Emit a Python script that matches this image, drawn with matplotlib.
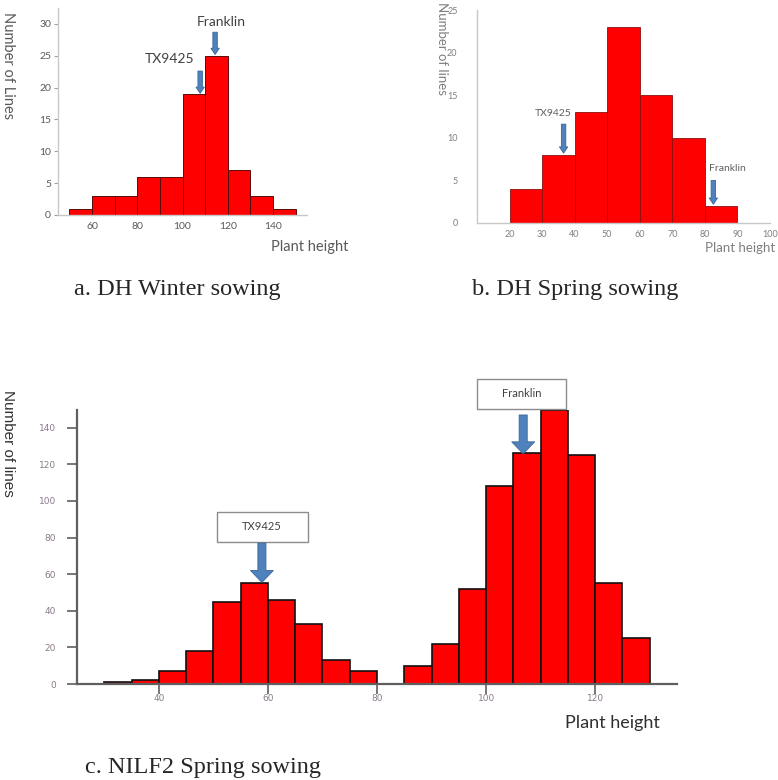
import matplotlib
matplotlib.use('Agg')
from matplotlib import pyplot as plt
from matplotlib.patches import Rectangle

# a. DH winter sowing
a_edges = [50, 60, 70, 80, 90, 100, 110, 120, 130, 140]
a_counts = [1, 3, 3, 6, 6, 19, 25, 7, 3, 1]
a_yticks = [0, 5, 10, 15, 20, 25, 30]
a_xticks = [60, 80, 100, 120, 140]

# b. DH spring sowing
b_edges = [20, 30, 40, 50, 60, 70, 80]
b_counts = [4, 8, 13, 23, 15, 10, 2]
b_yticks = [0, 5, 10, 15, 20, 25]
b_xticks = [20, 30, 40, 50, 60, 70, 80, 90, 100]

# c. NILF2 spring sowing
c_edges = [30, 35, 40, 45, 50, 55, 60, 65, 70, 75,
           85, 90, 95, 100, 105, 110, 115, 120, 125]
c_counts = [1, 2, 7, 18, 45, 55, 46, 33, 13, 7,
            10, 22, 52, 108, 126, 150, 125, 55, 25]
c_yticks = [0, 20, 40, 60, 80, 100, 120, 140]
c_xticks = [40, 60, 80, 100, 120]

RED = '#ff0000'
ARROW_FC = '#4f81bd'
ARROW_EC = '#3a6597'
SANS = ['Lato', 'DejaVu Sans']


def block_arrow(ax, x, y_from, y_to, hw, tw, hl):
    ax.annotate('', xy=(x, y_to), xytext=(x, y_from),
                arrowprops=dict(arrowstyle=f'simple,head_length={hl},head_width={hw},tail_width={tw}',
                                fc=ARROW_FC, ec=ARROW_EC, lw=0.6, mutation_scale=10,
                                shrinkA=0, shrinkB=0),
                annotation_clip=False)


def light_axes(ax, color):
    for s in ['top', 'right']:
        ax.spines[s].set_visible(False)
    for s in ['left', 'bottom']:
        ax.spines[s].set_color('#c8c8c8')
        ax.spines[s].set_linewidth(1.0)
    ax.tick_params(colors=color, labelcolor=color)


fig = plt.figure(figsize=(7.78, 7.80), dpi=100)

# ---- panel a ----
ax = fig.add_axes([58 / 778, 1 - 215 / 780, 249 / 778, 207 / 780])
ax.bar(a_edges, a_counts, width=10, align='edge', color=RED, edgecolor='#5a0a0a', linewidth=0.7)
ax.set_xlim(45, 155)
ax.set_ylim(0, 32.5)
ax.set_yticks(a_yticks)
ax.set_xticks(a_xticks)
light_axes(ax, '#595959')
ax.tick_params(axis='y', length=3, width=0.8, color='#a0a0a0', labelsize=7.5, pad=2)
ax.tick_params(axis='x', length=0, labelsize=7.5, pad=5)
for lab in ax.get_xticklabels() + ax.get_yticklabels():
    lab.set_family(SANS)
ax.text(-0.2, 0.72, 'Number of Lines', transform=ax.transAxes, rotation=-90,
        ha='center', va='center', fontsize=10.5, color='#595959', family=SANS)
ax.text(1.01, -0.155, 'Plant height', transform=ax.transAxes,
        ha='center', va='center', fontsize=10.5, color='#595959', family=SANS)
ax.text(117.3, 30.3, 'Franklin', ha='center', va='center', fontsize=10, color='#404040', family=SANS)
ax.text(94.5, 24.5, 'TX9425', ha='center', va='center', fontsize=10, color='#404040', family=SANS)
block_arrow(ax, 114.4, 28.7, 25.2, 0.6, 0.32, 0.45)
block_arrow(ax, 107.8, 22.6, 19.1, 0.6, 0.32, 0.45)

# ---- panel b ----
ax = fig.add_axes([477 / 778, 1 - 223 / 780, 293 / 778, 213 / 780])
ax.bar(b_edges, b_counts, width=10, align='edge', color=RED, edgecolor='#8a1010', linewidth=0.6)
ax.set_xlim(10, 100)
ax.set_ylim(0, 25)
ax.set_yticks(b_yticks)
ax.set_xticks(b_xticks)
light_axes(ax, '#7f7f7f')
ax.tick_params(length=0, labelsize=6.5)
ax.tick_params(axis='y', pad=14)
ax.tick_params(axis='x', pad=5)
for lab in ax.get_xticklabels() + ax.get_yticklabels():
    lab.set_family(SANS)
ax.text(-0.12, 0.82, 'Number of lines', transform=ax.transAxes, rotation=-90,
        ha='center', va='center', fontsize=9.5, color='#7f7f7f', family=SANS)
ax.text(0.898, -0.117, 'Plant height', transform=ax.transAxes,
        ha='center', va='center', fontsize=9.5, color='#7f7f7f', family=SANS)
ax.text(33.5, 12.9, 'TX9425', ha='center', va='center', fontsize=7.5, color='#606060', family=SANS)
ax.text(87, 6.4, 'Franklin', ha='center', va='center', fontsize=7.5, color='#606060', family=SANS)
block_arrow(ax, 36.6, 11.6, 8.2, 0.6, 0.32, 0.45)
block_arrow(ax, 82.6, 5.0, 2.2, 0.6, 0.32, 0.45)

# ---- panel c ----
ax = fig.add_axes([77 / 778, 1 - 684 / 780, 600 / 778, 274.5 / 780])
ax.bar(c_edges, c_counts, width=5, align='edge', color=RED, edgecolor='#101010', linewidth=1.2)
ax.set_xlim(25, 135)
ax.set_ylim(0, 150)
ax.set_yticks(c_yticks)
ax.set_xticks(c_xticks)
for s in ['top', 'right']:
    ax.spines[s].set_visible(False)
for s in ['left', 'bottom']:
    ax.spines[s].set_color('#5f5f5f')
    ax.spines[s].set_linewidth(1.6)
ax.tick_params(colors='#5f5f5f', labelcolor='#8a7a8a', width=1.2, labelsize=6.5)
ax.tick_params(axis='y', length=7, pad=8)
ax.tick_params(axis='x', length=7, pad=0.5)
ax.text(-0.115, 0.878, 'Number of lines', transform=ax.transAxes, rotation=-90,
        ha='center', va='center', fontsize=11, color='#303030', family='Liberation Sans')
ax.text(0.892, -0.142, 'Plant height', transform=ax.transAxes,
        ha='center', va='center', fontsize=13, color='#303030', family=SANS)
ax.add_patch(Rectangle((50.6, 77.6), 16.7, 16.4, fc='white', ec='#8c8c8c', lw=1, clip_on=False, zorder=3))
ax.text(58.9, 85.8, 'TX9425', ha='center', va='center', fontsize=8, color='#404040', family=SANS, zorder=4)
ax.add_patch(Rectangle((98.3, 150.3), 16.4, 16.4, fc='white', ec='#8c8c8c', lw=1, clip_on=False, zorder=3))
ax.text(106.5, 158.5, 'Franklin', ha='center', va='center', fontsize=8, color='#404040', family=SANS, zorder=4)
block_arrow(ax, 58.9, 77, 55.5, 1.65, 0.58, 0.86)
block_arrow(ax, 106.8, 147, 125.8, 1.65, 0.58, 0.86)

# captions
fig.text(0.2275, 1 - 289 / 780, 'a. DH Winter sowing', ha='center', va='center',
         fontsize=17.5, color='#262626', family='Liberation Serif')
fig.text(0.739, 1 - 289 / 780, 'b. DH Spring sowing', ha='center', va='center',
         fontsize=17.5, color='#262626', family='Liberation Serif')
fig.text(0.261, 1 - 768 / 780, 'c. NILF2 Spring sowing', ha='center', va='center',
         fontsize=17.5, color='#262626', family='Liberation Serif')

fig.savefig('out.png', dpi=100)
